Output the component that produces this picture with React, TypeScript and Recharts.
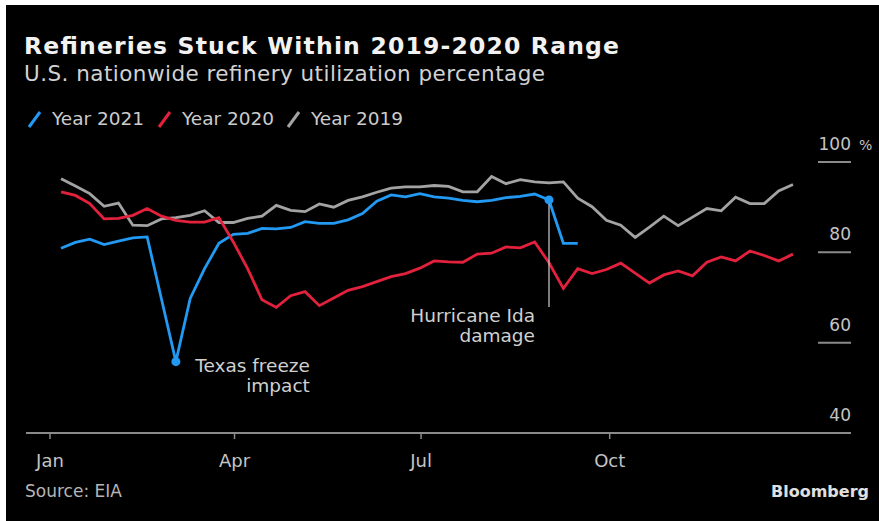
import { LineChart, Line, XAxis, YAxis, ReferenceDot, ReferenceLine } from 'recharts';

const FONT = "'DejaVu Sans', 'Liberation Sans', sans-serif";

// x axis is day of year; weekly EIA readings
const monthTicks = [0, 90, 181, 273];
const monthLabels = ['Jan', 'Apr', 'Jul', 'Oct'];
const yTicks = [40, 60, 80, 100];
const firstWeekDay = 5.4;

const year2021 = [
  80.9, 82.2, 82.9, 81.7, 82.5, 83.2, 83.4, 69.6, 55.8, 69.8, 76.4, 82.0, 84.0, 84.2, 85.3, 85.2,
  85.5, 86.8, 86.4, 86.4, 87.2, 88.6, 91.3, 92.7, 92.3, 93.0, 92.3, 92.0, 91.5, 91.2, 91.5, 92.1,
  92.4, 92.9, 91.6, 82.0, 82.0,
];
const year2020 = [
  93.4, 92.6, 90.8, 87.4, 87.5, 88.2, 89.7, 88.0, 87.1, 86.7, 86.7, 87.7, 82.3, 76.4, 69.5, 67.8,
  70.4, 71.3, 68.2, 69.9, 71.6, 72.4, 73.5, 74.6, 75.3, 76.5, 78.1, 77.9, 77.8, 79.6, 79.8, 81.2,
  81.0, 82.3, 77.7, 72.0, 76.4, 75.3, 76.2, 77.6, 75.4, 73.2, 75.0, 75.9, 74.8, 77.8, 79.0, 78.1,
  80.3, 79.3, 78.1, 79.6,
];
const year2019 = [
  96.3, 94.7, 93.0, 90.2, 90.9, 86.0, 85.9, 87.4, 87.7, 88.2, 89.2, 86.6, 86.6, 87.5, 88.0, 90.4,
  89.3, 89.0, 90.7, 90.0, 91.5, 92.3, 93.3, 94.2, 94.5, 94.5, 94.8, 94.6, 93.4, 93.4, 96.8, 95.2,
  96.1, 95.6, 95.4, 95.6, 92.0, 90.1, 87.1, 86.0, 83.3, 85.6, 88.0, 85.9, 87.8, 89.7, 89.2, 92.2,
  90.8, 90.8, 93.6, 95.0,
];

const freezeWeek = 8;
const idaWeek = 34;
const idaLineBottom = 67.9;

const BLUE = '#2299f2';
const RED = '#e3213d';
const GRAY = '#a3a3a3';

const data = year2019.map((v, i) => ({
  day: firstWeekDay + 7 * i,
  y2019: v,
  y2020: year2020[i],
  y2021: i < year2021.length ? year2021[i] : null,
}));

const XTick = ({ x, y, payload, index }: any) => (
  <g>
    <line x1={x} x2={x} y1={y - 6} y2={y} stroke='#8a8a8a' strokeWidth={1.5} />
    <text x={x} y={y + 28} textAnchor='middle' fill='#c4c4c4' fontSize={18} fontFamily={FONT}>
      {monthLabels[monthTicks.indexOf(payload.value)] ?? index}
    </text>
  </g>
);

const YTick = ({ x, y, payload }: any) => (
  <g>
    {payload.value !== 40 && <line x1={x - 33} x2={x} y1={y} y2={y} stroke='#8a8a8a' strokeWidth={2} />}
    <text x={x} y={y - 12} textAnchor='end' fill='#c4c4c4' fontSize={17} fontFamily={FONT}>
      {payload.value}
    </text>
    {payload.value === 100 && (
      <text x={x + 8} y={y - 12} fill='#c4c4c4' fontSize={14} fontFamily={FONT}>
        %
      </text>
    )}
  </g>
);

const noteLabel = (lines: string[], dx: number, dy: number) => (props: any) => {
  const { viewBox } = props;
  const cx = viewBox.x + viewBox.width / 2;
  const cy = viewBox.y + viewBox.height / 2;
  return (
    <g>
      {lines.map((t, i) => (
        <text key={i} x={cx + dx} y={cy + dy + i * 20} textAnchor='end' fill='#d0d0d0' fontSize={18.5} fontFamily={FONT}>
          {t}
        </text>
      ))}
    </g>
  );
};

const legendItems = [
  { label: 'Year 2021', color: BLUE, x: 27 },
  { label: 'Year 2020', color: RED, x: 157 },
  { label: 'Year 2019', color: GRAY, x: 286 },
];

export default function App() {
  return (
    <div style={{ position: 'absolute', left: 0, top: 0, width: 879, height: 521, background: '#ffffff' }}>
      <div style={{ position: 'absolute', left: 6, top: 5, right: 0, bottom: 0, background: '#000000' }} />
      <svg width={879} height={521} style={{ position: 'absolute', left: 0, top: 0 }}>
        <text x={24} y={54} fill='#f2f2f2' fontSize={23.5} fontWeight='bold' fontFamily={FONT} textLength={595} lengthAdjust='spacing'>
          Refineries Stuck Within 2019-2020 Range
        </text>
        <text x={24} y={81} fill='#d2d2d2' fontSize={21.5} fontFamily={FONT} textLength={521} lengthAdjust='spacing'>
          U.S. nationwide refinery utilization percentage
        </text>
        {legendItems.map((it) => (
          <g key={it.label}>
            <line x1={it.x + 2} y1={127} x2={it.x + 13} y2={112} stroke={it.color} strokeWidth={3} />
            <text x={it.x + 25} y={125} fill='#cccccc' fontSize={18.5} fontFamily={FONT}>
              {it.label}
            </text>
          </g>
        ))}
        <text x={25} y={497} fill='#b5b5b5' fontSize={17} fontFamily={FONT}>
          Source: EIA
        </text>
        <text x={869} y={497} textAnchor='end' fill='#e0e0e0' fontSize={16} fontWeight='bold' fontFamily={FONT}>
          Bloomberg
        </text>
      </svg>
      <div style={{ position: 'absolute', left: 0, top: 0 }}>
        <LineChart width={879} height={521} data={data} margin={{ top: 162, right: 27, bottom: 0, left: 26 }}>
          <XAxis
            dataKey='day'
            type='number'
            domain={[-11.7, 390.7]}
            ticks={monthTicks}
            height={88}
            axisLine={{ stroke: '#8a8a8a', strokeWidth: 2 }}
            tickLine={false}
            tickSize={6}
            tickMargin={0}
            tick={<XTick />}
            interval={0}
          />
          <YAxis
            orientation='right'
            type='number'
            domain={[40, 100]}
            ticks={yTicks}
            width={1}
            axisLine={false}
            tickLine={false}
            tickSize={0}
            tickMargin={0}
            tick={<YTick />}
            interval={0}
          />
          <Line dataKey='y2019' stroke={GRAY} strokeWidth={2.8} dot={false} isAnimationActive={false} />
          <Line dataKey='y2021' stroke={BLUE} strokeWidth={2.8} dot={false} isAnimationActive={false} />
          <Line dataKey='y2020' stroke={RED} strokeWidth={2.8} dot={false} isAnimationActive={false} />
          <ReferenceLine
            segment={[
              { x: data[idaWeek].day, y: year2021[idaWeek] },
              { x: data[idaWeek].day, y: idaLineBottom },
            ]}
            stroke='#d0d0d0'
            strokeWidth={1.2}
          />
          <ReferenceDot
            x={data[freezeWeek].day}
            y={year2021[freezeWeek]}
            r={4.5}
            fill={BLUE}
            stroke='none'
            label={{ content: noteLabel(['Texas freeze', 'impact'], 134, 10) }}
          />
          <ReferenceDot
            x={data[idaWeek].day}
            y={year2021[idaWeek]}
            r={4.5}
            fill={BLUE}
            stroke='none'
            label={{ content: noteLabel(['Hurricane Ida', 'damage'], -14, 122) }}
          />
        </LineChart>
      </div>
    </div>
  );
}
